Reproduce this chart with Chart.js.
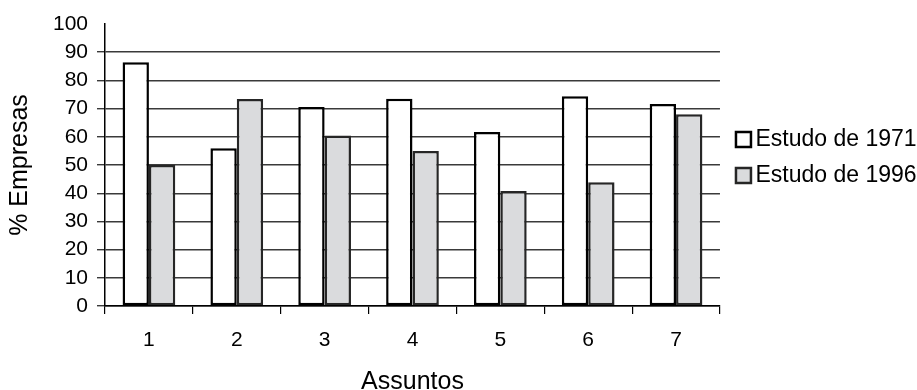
<!DOCTYPE html>
<html>
<head>
<meta charset="utf-8">
<script src="https://cdn.jsdelivr.net/npm/chart.js@4.4.1/dist/chart.umd.min.js"></script>
<style>
html,body{margin:0;padding:0;background:#ffffff;overflow:hidden;}
#wrap{width:917px;height:390px;position:relative;overflow:hidden;}
canvas{display:block;}
</style>
</head>
<body>
<div id="wrap"><canvas id="c" width="980" height="390"></canvas></div>
<script>
// ---- data ----
const categories = ['1', '2', '3', '4', '5', '6', '7'];
const estudo1971 = [86.4, 55.9, 70.6, 73.5, 61.7, 74.4, 71.6];
const estudo1996 = [50, 73.4, 60.5, 55, 40.8, 43.9, 68];
const seriesNames = ['Estudo de 1971', 'Estudo de 1996'];
const yTickValues = [0, 10, 20, 30, 40, 50, 60, 70, 80, 90, 100];
const yAxisTitle = '% Empresas';
const xAxisTitle = 'Assuntos';

const FONT = "'Liberation Sans', Arial, Helvetica, sans-serif";
const GRID = '#3a3a3a';

new Chart(document.getElementById('c'), {
  type: 'bar',
  data: {
    labels: categories,
    datasets: [
      {
        label: seriesNames[0],
        data: estudo1971,
        backgroundColor: '#ffffff',
        borderColor: '#000000',
        borderWidth: 2.5,
        borderSkipped: false,
        categoryPercentage: 0.6,
        barPercentage: 1.0
      },
      {
        label: seriesNames[1],
        data: estudo1996,
        backgroundColor: '#dadbdd',
        borderColor: '#262626',
        borderWidth: 2.5,
        borderSkipped: false,
        categoryPercentage: 0.6,
        barPercentage: 1.0
      }
    ]
  },
  options: {
    responsive: false,
    animation: false,
    events: [],
    layout: { padding: { top: 24, right: 53.4, bottom: 0, left: 0 } },
    scales: {
      x: {
        offset: true,
        grid: { display: true, drawOnChartArea: false, drawTicks: true, tickLength: 8, color: '#000000', lineWidth: 1.2, offset: true },
        border: { display: true, color: '#000000', width: 1.5 },
        ticks: { color: '#000000', font: { family: FONT, size: 21 }, padding: 14, maxRotation: 0 },
        title: { display: true, text: xAxisTitle, color: '#000000', font: { family: FONT, size: 25, lineHeight: 0.6 }, padding: 0 },
        afterFit(s) { s.height = 84; }
      },
      y: {
        min: 0,
        max: 100,
        afterBuildTicks(s) { s.ticks = yTickValues.map(v => ({ value: v })); },
        grid: {
          color: (ctx) => (ctx.tick && ctx.tick.value === 100) ? 'rgba(0,0,0,0)' : GRID,
          lineWidth: 1.4,
          drawTicks: true,
          tickLength: 8
        },
        border: { display: true, color: '#000000', width: 1.5 },
        ticks: { color: '#000000', font: { family: FONT, size: 21 }, padding: 9 },
        title: { display: true, text: yAxisTitle, color: '#000000', font: { family: FONT, size: 25 }, padding: { top: 5.5, bottom: 0 } },
        afterFit(s) { s.width = 105; }
      },
      y2: {
        type: 'linear',
        position: 'right',
        display: true,
        grid: { display: false },
        border: { display: false },
        ticks: { display: false },
        afterFit(s) { s.width = 10; }
      }
    },
    plugins: {
      tooltip: { enabled: false },
      legend: {
        display: true,
        position: 'right',
        align: 'start',
        maxWidth: 260,
        title: { display: true, text: '', font: { size: 10, lineHeight: 1 }, padding: { top: 81, bottom: 0 } },
        labels: {
          usePointStyle: true,
          pointStyle: 'rect',
          boxWidth: 1,
          boxHeight: 15,
          padding: 13,
          color: '#000000',
          font: { family: FONT, size: 23 }
        }
      }
    }
  }
});
</script>
</body>
</html>
